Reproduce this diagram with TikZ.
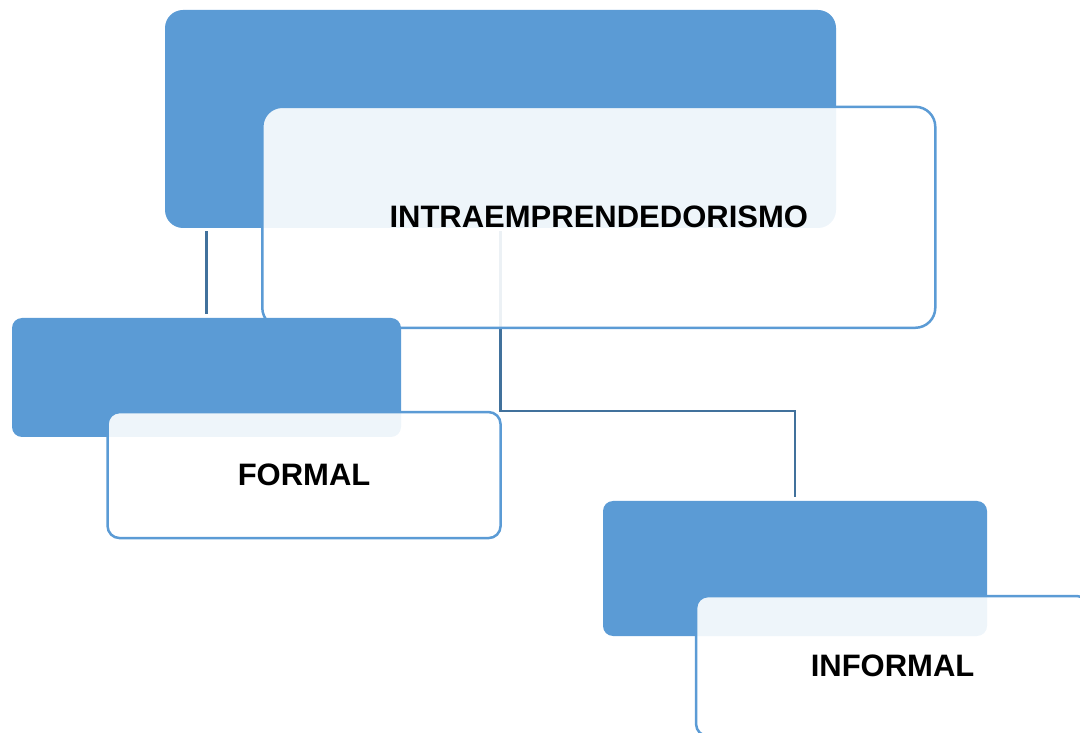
\documentclass[tikz,border=0pt]{standalone}
\usepackage{fontspec}
\setmainfont{Liberation Sans}
\usetikzlibrary{backgrounds}
\definecolor{boxblue}{HTML}{5B9BD5}
\definecolor{lineblue}{HTML}{41719C}

\begin{document}
\begin{tikzpicture}[x=1pt,y=1pt,
		back/.style={rectangle, fill=boxblue, inner sep=0pt},
		front/.style={rectangle, draw=boxblue, line width=2.5pt, fill=white,
			fill opacity=0.9, text opacity=1, inner sep=0pt,
			font=\fontsize{31}{37}\selectfont\bfseries},
		link/.style={draw=lineblue, line width=2.5pt, shorten <=3pt, shorten >=4pt}]
	\useasboundingbox (0,0) rectangle (1080,732);

	\node[back, minimum width=671pt, minimum height=218pt, rounded corners=18pt] (T) at (500.5,613) {};
	\node[front, minimum width=673pt, minimum height=221pt, rounded corners=20pt] (Tf) [below right of=T, node distance=139pt] {INTRAEMPRENDEDORISMO};

	\node[back, minimum width=389pt, minimum height=119pt, rounded corners=10pt] (F) at (206.5,354.5) {};
	\node[front, minimum width=393pt, minimum height=126pt, rounded corners=12pt] (Ff) [below right of=F, node distance=138pt] {FORMAL};

	\node[back, minimum width=384pt, minimum height=135pt, rounded corners=10pt] (I) at (795,163.5) {};
	\node[front, minimum width=393pt, minimum height=140pt, rounded corners=12pt] (If) [below right of=I, node distance=138pt] {INFORMAL};

	\begin{pgfonlayer}{background}
		\path[link] (F.north |- T.south) -- (F.north);
		\path[link] (T.south) -- ++(0,-183) -| (I.north);
	\end{pgfonlayer}

\end{tikzpicture}
\end{document}
